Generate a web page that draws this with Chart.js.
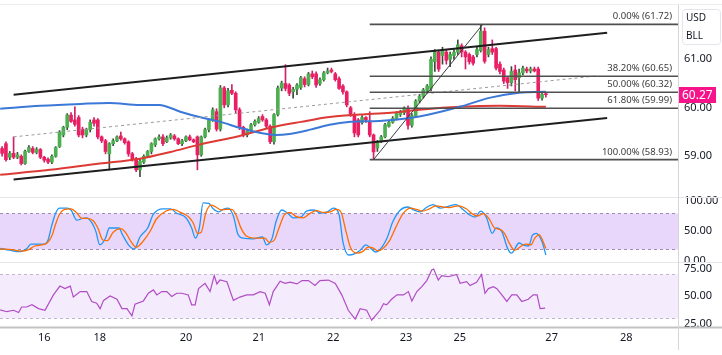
<!DOCTYPE html>
<html><head><meta charset="utf-8">
<script src="https://cdn.jsdelivr.net/npm/chart.js@4.4.1/dist/chart.umd.min.js"></script>
<style>
html,body{margin:0;padding:0;background:#fff;width:722px;height:355px;overflow:hidden}
.pane{position:absolute;left:0;width:722px}
canvas{display:block}
</style></head><body>
<div class="pane" style="top:0;height:197px"><canvas id="cMain" width="722" height="197"></canvas></div>
<div class="pane" style="top:191px;height:71px"><canvas id="cStoch" width="722" height="71"></canvas></div>
<div class="pane" style="top:262px;height:93px"><canvas id="cRsi" width="722" height="93"></canvas></div>
<script>
// ---------- DATA ----------
const candleOpen  = [59.16,59.26,58.98,59.06,58.98,59.00,58.85,59.10,59.16,59.08,59.14,58.98,58.94,58.88,59.00,59.20,59.44,59.60,59.85,59.75,59.80,59.56,59.44,59.55,59.75,59.75,59.40,59.32,59.05,59.26,59.32,59.42,59.36,59.30,59.05,58.95,58.72,58.88,59.00,59.10,59.24,59.36,59.40,59.30,59.38,59.42,59.36,59.26,59.32,59.40,59.34,59.40,59.03,59.40,59.55,59.75,59.92,59.56,60.41,60.06,60.36,60.30,59.96,59.60,59.44,59.52,59.65,59.70,59.82,59.75,59.62,59.30,59.86,60.41,60.50,60.47,60.33,60.38,60.42,60.60,60.48,60.70,60.70,60.50,60.58,60.72,60.78,60.70,60.60,60.45,60.33,60.00,59.86,59.75,59.70,59.80,59.71,59.44,59.17,59.30,59.40,59.62,59.70,59.78,59.86,59.90,59.98,59.64,59.84,60.14,60.24,60.36,60.40,60.95,61.15,61.08,61.15,61.00,61.08,61.15,61.28,61.15,61.10,61.05,61.10,61.18,61.58,61.10,61.22,61.22,60.90,60.78,60.62,60.52,60.78,60.62,60.72,60.80,60.76,60.80,60.80,60.20,60.28];
const candleHigh  = [59.20,59.30,59.10,59.40,59.08,59.03,59.13,59.22,59.20,59.18,59.16,59.00,58.97,59.03,59.20,59.53,59.62,59.88,59.90,60.02,59.84,59.60,59.58,59.75,59.80,59.78,59.42,59.35,59.28,59.36,59.42,59.50,59.38,59.32,59.08,58.98,58.95,59.03,59.12,59.28,59.38,59.44,59.45,59.42,59.47,59.45,59.38,59.35,59.42,59.44,59.36,59.42,59.42,59.58,59.78,60.00,59.98,60.46,60.44,60.40,60.48,60.33,60.00,59.62,59.56,59.68,59.75,59.82,59.86,59.78,59.65,59.88,60.45,60.55,60.89,60.50,60.42,60.50,60.65,60.64,60.73,60.76,60.74,60.62,60.75,60.82,60.82,60.73,60.64,60.48,60.35,60.03,59.90,59.78,59.84,59.82,59.92,59.46,59.33,59.43,59.68,59.73,59.82,59.92,59.95,60.02,60.04,59.88,60.17,60.28,60.40,60.48,61.05,61.20,61.18,61.25,61.20,61.15,61.20,61.40,61.32,61.18,61.13,61.08,61.25,61.72,61.65,61.25,61.40,61.25,60.95,60.82,60.65,60.85,60.88,60.80,60.86,60.84,60.84,60.84,60.84,60.33,60.32];
const candleLow   = [59.00,58.90,58.93,58.95,58.95,58.82,58.83,59.08,59.05,59.05,58.95,58.88,58.85,58.85,58.98,59.18,59.40,59.55,59.70,59.62,59.40,59.38,59.40,59.50,59.62,59.36,59.28,59.05,58.72,59.22,59.30,59.33,59.25,59.00,58.90,58.68,58.58,58.85,58.98,59.05,59.20,59.33,59.22,59.28,59.35,59.33,59.24,59.22,59.30,59.32,59.28,58.72,59.00,59.38,59.50,59.72,59.52,59.52,60.00,60.02,60.27,59.90,59.55,59.40,59.40,59.50,59.62,59.68,59.72,59.58,59.26,59.25,59.83,60.35,60.35,60.25,60.20,60.27,60.38,60.43,60.45,60.60,60.42,60.46,60.55,60.70,60.72,60.55,60.38,60.28,60.02,59.82,59.40,59.40,59.66,59.70,59.40,58.93,59.10,59.28,59.38,59.60,59.68,59.75,59.82,59.86,59.56,59.60,59.80,60.10,60.20,60.33,60.35,60.75,60.75,60.90,60.90,60.85,61.00,61.10,61.05,60.80,60.90,60.88,61.05,61.15,60.92,61.05,61.10,60.78,60.70,60.50,60.40,60.45,60.35,60.33,60.68,60.72,60.72,60.74,60.15,60.16,60.22];
const candleClose = [59.06,58.93,59.06,58.98,59.03,58.85,59.10,59.18,59.08,59.14,58.98,58.92,58.88,59.00,59.18,59.50,59.60,59.85,59.72,59.66,59.44,59.44,59.55,59.70,59.68,59.40,59.32,59.10,59.26,59.32,59.40,59.36,59.28,59.05,58.95,58.72,58.90,59.00,59.10,59.26,59.36,59.40,59.26,59.38,59.44,59.36,59.26,59.32,59.40,59.34,59.30,59.03,59.40,59.55,59.75,59.96,59.56,60.41,60.06,60.35,60.30,59.96,59.60,59.44,59.52,59.65,59.72,59.78,59.75,59.62,59.30,59.86,60.41,60.51,60.40,60.30,60.38,60.47,60.62,60.48,60.70,60.64,60.47,60.58,60.72,60.76,60.75,60.58,60.40,60.33,60.06,59.86,59.48,59.44,59.80,59.75,59.44,59.09,59.30,59.40,59.65,59.70,59.78,59.88,59.90,60.00,59.64,59.84,60.14,60.24,60.37,60.45,61.00,61.15,60.80,61.20,60.98,61.10,61.15,61.30,61.15,61.05,60.95,60.92,61.20,61.58,60.96,61.20,61.15,60.82,60.75,60.55,60.52,60.75,60.58,60.72,60.82,60.76,60.80,60.76,60.20,60.28,60.27];

// moving averages [barIndex, value]
const maBlue = [[-0.5,59.98],[10,60.04],[20.5,60.08],[28,60.10],[36,60.06],[41,60.06],[46.5,59.92],[51.5,59.81],[57,59.71],[62,59.59],[67.5,59.48],[71.5,59.44],[75,59.46],[80.5,59.55],[85.5,59.65],[91,59.71],[98.5,59.73],[106.5,59.79],[111.5,59.86],[119.5,60.02],[127.5,60.21],[135,60.31],[142,60.33]];
const maRed  = [[-0.5,58.62],[12.5,58.72],[25.5,58.85],[36,58.95],[44,59.09],[51.5,59.24],[62,59.42],[70,59.59],[78,59.71],[85.5,59.81],[93.5,59.86],[101.5,59.90],[109,59.96],[119.5,60.02],[130,60.04],[142,60.02]];

// drawings: channel, fibonacci
const channelUpper = [[3,60.27],[158,61.55]];
const channelLower = [[3,58.52],[158,59.79]];
const channelMid   = [[3,59.40],[155.5,60.66]];
const fibStart = 96;
const fibLevels = [61.72, 60.65, 60.32, 59.99, 58.93];
const fibLabels = ['0.00% (61.72)','38.20% (60.65)','50.00% (60.32)','61.80% (59.99)','100.00% (58.93)'];
const fibTrend = [[97,58.93],[125.5,61.72]];

// stochastic %K, %D
const stochK = [[-0.5,21],[2,18],[4.5,15.5],[6.5,21],[7.5,28],[11,28],[12,35],[13,60],[14,80],[15,88],[17,88],[18,85],[19.5,68],[21,71],[22,72],[23.5,63],[24.5,49],[25.5,27],[27,38],[28,55],[30.5,55],[31.5,43],[33,27],[34.5,20],[36,40],[38,55],[39.5,78],[42,87],[44,87],[45.5,80],[48,72],[49.5,55],[50.5,38],[51.5,55],[52.5,97],[54,96],[55,88],[56.5,82],[58,87],[59,88],[60.5,73],[61.5,46],[63,38],[65.5,37],[68,40],[69,27],[70.5,38],[71.5,65],[73,85],[74.5,80],[76,72],[78,73],[79.5,83],[81.5,85],[83,80],[85,82],[86.5,88],[88,77],[89,32],[90.5,10],[92,12],[93.5,18],[95,27],[96,23],[97.5,15],[98.5,18],[100.5,38],[102,65],[104,85],[106,90],[107.5,85],[109,82],[111,90],[112.5,94],[114.5,88],[116,90],[118.5,94],[120.5,85],[122,77],[123.5,73],[125,83],[126.5,72],[128,46],[129,55],[130.5,49],[132,21],[133,13],[135,30],[136,27],[137.5,25],[138.5,43],[139.5,46],[141,32],[142,10]];
const stochD = [[-0.5,20],[2.5,19],[5,16.5],[7,19],[8.5,25],[11.5,29],[13,42],[14,62],[15,78],[16.3,86],[18,87],[19.5,80],[20.8,71],[22.3,71],[23.8,67],[25,55],[26.3,35],[27.5,34],[29,48],[31,54],[32.3,47],[33.7,32],[35,23],[36.8,33],[38.7,50],[40.3,70],[42.7,83],[44.7,86],[46.3,82],[48.8,73],[50,62],[51,46],[52,48],[53.2,80],[54.6,93],[55.8,90],[57.2,85],[58.6,86],[60,86],[61.2,75],[62.3,56],[63.7,42],[66.3,38],[68.6,38],[69.8,31],[71.1,35],[72.3,55],[73.7,77],[75.1,81],[76.8,74],[78.7,72],[80.3,79],[82.2,84],[83.8,81],[85.7,82],[87.3,86],[88.6,80],[89.7,52],[91,22],[92.7,13],[94.2,16],[95.6,23],[96.8,22],[98.1,17],[99.3,20],[101.1,33],[102.8,56],[104.7,79],[106.7,88],[108.2,86],[109.7,83],[111.6,87],[113.2,92],[115.1,90],[116.7,89],[119.2,92],[121.2,87],[122.7,79],[124.2,75],[125.7,79],[127.1,71],[128.6,55],[129.8,53],[131.1,47],[132.6,28],[133.8,18],[135.6,25],[136.8,28],[138.1,27],[139.1,38],[140.2,44],[142,21]];

// RSI
const rsi = [[-0.5,37.3],[1.2,35.7],[3,37],[4.3,35],[5.1,40],[6.4,40],[7.8,42],[9.5,38.5],[11.2,37],[13.4,51],[15.1,59],[16.4,56.7],[17.8,59],[18.6,49],[20.4,54],[22.1,54],[23.4,45],[24.7,43.5],[25.6,38.5],[26.5,46],[28.2,50],[30,47],[31.3,38.5],[32.6,38.5],[33.9,32],[34.7,42.5],[36.9,45.5],[38.2,52.5],[39.5,55.5],[40.4,51],[41.7,54],[43,54],[44.3,49.5],[45.6,52.5],[46.9,52.5],[48.6,51],[49.5,42],[50.4,42],[51.3,56.7],[53,61.5],[54.3,54],[55.4,68.5],[56.1,61],[56.9,64.5],[58.7,63],[60.4,46],[62.1,49],[63.9,51],[65.6,51],[67.4,54],[68.7,52.5],[69.8,42],[70.8,54],[72.6,63.5],[73.9,61.5],[75.2,62.5],[77,61],[78.3,64],[80,64],[81.7,59.5],[83,64],[85.2,64.5],[87,61.5],[88.7,51],[90.4,37],[92.2,29],[93.5,38.5],[95.2,37],[96.5,28],[98.7,37],[99.6,43],[100.4,42],[101.7,47],[103.1,51],[104.8,51],[106.1,54],[107,45.5],[108.3,54],[109.6,58.5],[110.9,64],[112.2,73.6],[112.7,74.5],[113.9,64.5],[114.8,68.5],[116.5,67.5],[118.7,69.5],[119.6,61.5],[121.3,63],[122.2,59.5],[123.9,62.5],[125.2,69.5],[126.1,52.5],[127,56.7],[128.3,58.5],[129.2,56.7],[130.5,51],[131.8,45],[133.1,51],[134.4,51],[135.7,45],[137.4,47],[138.7,51],[139.7,51],[140.5,38.5],[141.8,39]];

// axes
const xRange = [-0.55, 176.5];
const dayTickPos = [11, 25.5, 48, 67, 86.5, 105.5, 119.5, 143.5, 163];
const dayTickLabels = ['16','18','20','21','22','23','25','27','28'];
const priceRange = [58.16, 62.10];
const priceTicks = [59, 60, 61];
const stochRange = [-1.67, 106.67];
const stochTicks = [0, 50, 100];
const stochBand = [20, 80];
const rsiRange = [21.8, 80.9];
const rsiTicks = [25, 50, 75];
const rsiBand = [30, 70];
const unitLabels = ['USD', 'BLL'];

// ---------- STYLE ----------
const FONT = '"Noto Sans", "DejaVu Sans", sans-serif';
Chart.defaults.font.family = FONT;
Chart.defaults.animation = false;
const UP = '#4caf50', DOWN = '#e91e63';
const TXT = '#131722';
const AXW = 44;

const pts = arr => arr.map(p => ({x: p[0], y: p[1]}));
const isUp = i => candleClose[i] >= candleOpen[i];

function yAxis(range, ticks, extra) {
  return Object.assign({
    position: 'right', min: range[0], max: range[1],
    afterBuildTicks: s => { s.ticks = ticks.map(v => ({value: v})); },
    afterFit: s => { s.width = AXW; s.paddingTop = 0; s.paddingBottom = 0; },
    grid: {display: false, drawTicks: false},
    border: {display: false},
    ticks: {padding: 6, color: TXT, font: {size: 11}, callback: v => Number(v).toFixed(2)}
  }, extra || {});
}
const xHidden = {type: 'linear', min: xRange[0], max: xRange[1], offset: false, display: false};

function lineDS(data, color, width, extra) {
  return Object.assign({type: 'line', data: pts(data), borderColor: color, borderWidth: width,
    pointRadius: 0, fill: false, tension: 0}, extra || {});
}

// ---------- PLUGINS ----------
function vLine(ctx, x, y0, y1, color, w) {
  ctx.save(); ctx.strokeStyle = color; ctx.lineWidth = w;
  ctx.beginPath(); ctx.moveTo(x, y0); ctx.lineTo(x, y1); ctx.stroke(); ctx.restore();
}
function hLine(ctx, y, x0, x1, color, w, dash) {
  ctx.save(); ctx.strokeStyle = color; ctx.lineWidth = w; if (dash) ctx.setLineDash(dash);
  ctx.beginPath(); ctx.moveTo(x0, y); ctx.lineTo(x1, y); ctx.stroke(); ctx.restore();
}

const mainDecor = {
  id: 'mainDecor',
  afterDatasetsDraw(chart) {
    const {ctx, chartArea: a, scales: {y}} = chart;
    ctx.save();
    ctx.font = '9.5px ' + FONT;
    ctx.fillStyle = '#3b3b3b';
    ctx.textAlign = 'right'; ctx.textBaseline = 'bottom';
    fibLevels.forEach((lv, k) => ctx.fillText(fibLabels[k], a.right - 6, y.getPixelForValue(lv) - 3));
    ctx.restore();
  },
  afterDraw(chart) {
    const {ctx, chartArea: a, scales: {y}} = chart;
    hLine(ctx, 4.5, 0, chart.width, '#ededed', 1);
    vLine(ctx, a.right + 0.5, 5, chart.height, '#d6d6d6', 1);
    ctx.save();
    // unit box
    ctx.strokeStyle = '#e3e5ea'; ctx.lineWidth = 1;
    ctx.beginPath(); ctx.roundRect(a.right + 4.5, 9.5, 38, 35, 3); ctx.stroke();
    ctx.fillStyle = TXT; ctx.font = '10px ' + FONT; ctx.textAlign = 'left'; ctx.textBaseline = 'middle';
    ctx.fillText(unitLabels[0], a.right + 8, 18);
    ctx.fillText(unitLabels[1], a.right + 8, 36);
    // last price box
    const last = candleClose[candleClose.length - 1];
    const py = y.getPixelForValue(last);
    ctx.fillStyle = '#f7148a';
    ctx.fillRect(a.right + 1, Math.round(py) - 8, 37, 16);
    ctx.fillStyle = '#ffffff'; ctx.font = '12px ' + FONT;
    ctx.fillText(last.toFixed(2), a.right + 4, py + 0.5);
    ctx.restore();
  }
};

const bandPlugin = {
  id: 'band',
  beforeDatasetsDraw(chart, args, o) {
    const {ctx, chartArea: a, scales: {y}} = chart;
    const y1 = Math.round(y.getPixelForValue(o.band[1])) + 0.5;
    const y2 = Math.round(y.getPixelForValue(o.band[0])) + 0.5;
    ctx.save(); ctx.fillStyle = o.fill; ctx.fillRect(a.left, y1, a.right - a.left, y2 - y1); ctx.restore();
    hLine(ctx, y1, a.left, a.right, o.dash, 1, [3, 3]);
    hLine(ctx, y2, a.left, a.right, o.dash, 1, [3, 3]);
  },
  afterDraw(chart, args, o) {
    const {ctx, chartArea: a} = chart;
    if (o.axisLine) {
      ctx.save(); ctx.fillStyle = '#fff';
      ctx.fillRect(a.right, a.bottom, chart.width - a.right, chart.height - a.bottom); ctx.restore();
      hLine(ctx, a.bottom + 0.5, 0, chart.width, '#c3c3c3', 2);
    }
    hLine(ctx, a.top + 0.5, 0, chart.width, '#e6e6ea', 1);
    vLine(ctx, a.right + 0.5, a.top, o.axisLine ? chart.height - 5 : chart.height, '#d6d6d6', 1);
  }
};

// ---------- MAIN CHART ----------
const bodies = candleClose.map((c, i) => ({x: i, y: [candleOpen[i], c]}));
const wicks = candleClose.map((c, i) => ({x: i, y: [candleLow[i], candleHigh[i]]}));

new Chart(document.getElementById('cMain'), {
  data: {datasets: [
    lineDS(fibTrend, '#3d3d3d', 1, {order: 1}),
    ...fibLevels.map(lv => lineDS([[fibStart, lv], [xRange[1], lv]], '#505050', 1.6, {order: 2})),
    lineDS(channelUpper, '#1e1e1e', 2, {order: 3}),
    lineDS(channelLower, '#1e1e1e', 2, {order: 3}),
    lineDS(channelMid, '#9a9a9a', 1, {order: 3, borderDash: [3, 3]}),
    lineDS(maBlue, '#3b78d8', 2, {order: 4, cubicInterpolationMode: 'monotone'}),
    lineDS(maRed, '#dc3a35', 2, {order: 4, cubicInterpolationMode: 'monotone'}),
    {type: 'bar', data: bodies, grouped: false, barThickness: 3, minBarLength: 1, order: 8,
      backgroundColor: candleClose.map((c, i) => isUp(i) ? UP : DOWN), borderWidth: 0},
    {type: 'bar', data: wicks, grouped: false, barThickness: 1, order: 9,
      backgroundColor: candleClose.map((c, i) => isUp(i) ? '#3a4a3a' : '#d0206a'), borderWidth: 0}
  ]},
  options: {
    responsive: false, devicePixelRatio: 1, animation: false,
    layout: {padding: {top: 6, left: 0, right: 0, bottom: 0}},
    plugins: {legend: {display: false}, tooltip: {enabled: false}},
    scales: {x: xHidden, y: yAxis(priceRange, priceTicks)}
  },
  plugins: [mainDecor]
});

// ---------- STOCHASTIC ----------
new Chart(document.getElementById('cStoch'), {
  type: 'line',
  data: {datasets: [
    lineDS(stochD, '#ff6d00', 1.3, {order: 1, cubicInterpolationMode: 'monotone'}),
    lineDS(stochK, '#2196f3', 1.3, {order: 2, cubicInterpolationMode: 'monotone'})
  ]},
  options: {
    responsive: false, devicePixelRatio: 1, animation: false,
    layout: {padding: {top: 6, left: 0, right: 0, bottom: 0}},
    plugins: {legend: {display: false}, tooltip: {enabled: false},
      band: {band: stochBand, fill: '#e9d6fb', dash: '#9d8fae'}},
    scales: {x: xHidden, y: yAxis(stochRange, stochTicks)}
  },
  plugins: [bandPlugin]
});

// ---------- RSI ----------
new Chart(document.getElementById('cRsi'), {
  type: 'line',
  data: {datasets: [lineDS(rsi, '#b04cc4', 1.2)]},
  options: {
    responsive: false, devicePixelRatio: 1, animation: false,
    layout: {padding: 0},
    plugins: {legend: {display: false}, tooltip: {enabled: false},
      band: {band: rsiBand, fill: '#f4ebfd', dash: '#c2b5d0', axisLine: true}},
    scales: {
      x: {type: 'linear', min: xRange[0], max: xRange[1], offset: false,
        afterBuildTicks: s => { s.ticks = dayTickPos.map(v => ({value: v})); },
        afterFit: s => { s.height = 28; s.paddingLeft = 0; s.paddingRight = 0; },
        grid: {display: false, drawTicks: false}, border: {display: false},
        ticks: {autoSkip: false, maxRotation: 0, padding: 4, color: TXT, font: {size: 11},
          callback: (v, i) => dayTickLabels[i]}},
      y: yAxis(rsiRange, rsiTicks)
    }
  },
  plugins: [bandPlugin]
});
</script>
</body></html>
